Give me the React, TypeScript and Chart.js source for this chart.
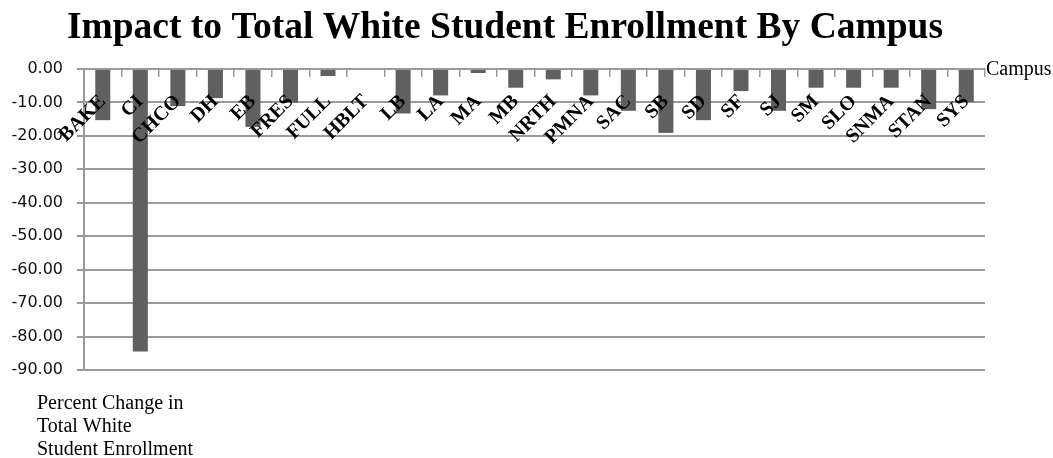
import React, { useEffect, useRef } from 'react';
import { Chart, registerables } from 'chart.js';

Chart.register(...registerables);

const campuses = ['BAKE', 'CI', 'CHCO', 'DH', 'EB', 'FRES', 'FULL', 'HBLT', 'LB', 'LA', 'MA', 'MB', 'NRTH', 'PMNA', 'SAC', 'SB', 'SD', 'SF', 'SJ', 'SM', 'SLO', 'SNMA', 'STAN', 'SYS'];
const percentChange = [-15.3, -84.5, -11.1, -8.7, -17.3, -10.1, -2.1, 0, -13.3, -7.9, -1.2, -5.6, -3.1, -7.9, -12.5, -19.1, -15.3, -6.6, -12.5, -5.6, -5.6, -5.6, -12.0, -9.9];
const yMin = -90;
const yMax = 0;
const yStep = 10;
const chartTitle = 'Impact to Total White Student Enrollment By Campus';
const xAxisTitle = 'Campus';
const yAxisTitleLines = ['Percent Change in', 'Total White', 'Student Enrollment'];

const GRID = '#9a9a9a';

const textPlugin = {
  id: 'extraText',
  afterDraw(chart: any) {
    const { ctx, chartArea, scales } = chart;
    ctx.save();
    ctx.fillStyle = '#000';
    ctx.textBaseline = 'alphabetic';
    ctx.font = 'bold 37.5px "Liberation Serif"';
    ctx.textAlign = 'center';
    ctx.fillText(chartTitle, 505, 38);
    ctx.font = '20px "Liberation Serif"';
    ctx.textAlign = 'left';
    const y0 = scales.y.getPixelForValue(0);
    ctx.fillText(xAxisTitle, chartArea.right + 1, y0 + 6);
    yAxisTitleLines.forEach((line, i) => {
      ctx.fillText(line, 37, chartArea.bottom + 39 + i * 23);
    });
    ctx.restore();
  },
};

export default function App() {
  const canvasRef = useRef<HTMLCanvasElement | null>(null);

  useEffect(() => {
    if (!canvasRef.current) return;
    const chart = new Chart(canvasRef.current, {
      type: 'bar',
      data: {
        labels: campuses,
        datasets: [
          {
            data: percentChange,
            backgroundColor: '#606060',
            borderWidth: 0,
            barPercentage: 0.4,
            categoryPercentage: 1,
          },
        ],
      },
      options: {
        animation: false,
        responsive: true,
        maintainAspectRatio: false,
        layout: { padding: { left: 0, top: 69, right: 68, bottom: 88 } },
        plugins: {
          legend: { display: false },
          title: { display: false },
          tooltip: { enabled: false },
        },
        scales: {
          x: {
            position: { y: 0 } as any,
            grid: {
              display: true,
              drawOnChartArea: false,
              drawTicks: true,
              tickLength: 7,
              color: GRID,
              lineWidth: 1.5,
              offset: true,
            },
            border: { display: true, color: GRID, width: 2 },
            ticks: {
              z: 1,
              autoSkip: false,
              maxRotation: 45,
              minRotation: 45,
              padding: 14,
              color: '#000',
              font: { family: 'Liberation Serif', size: 20, weight: 'bold' },
            },
          },
          y: {
            min: yMin,
            max: yMax,
            ticks: {
              stepSize: yStep,
              padding: 14,
              color: '#111',
              font: { family: 'DejaVu Sans', size: 16 },
              callback: (v: any) => Number(v).toFixed(2),
            },
            grid: { color: GRID, lineWidth: 2, tickLength: 7 },
            border: { color: GRID, width: 2 },
            afterFit: (s: any) => {
              s.width = 84;
            },
          },
        },
      },
      plugins: [textPlugin],
    });
    return () => chart.destroy();
  }, []);

  return (
    <div style={{ position: 'absolute', left: 0, top: 0, width: 1053, height: 458 }}>
      <canvas ref={canvasRef} />
    </div>
  );
}
